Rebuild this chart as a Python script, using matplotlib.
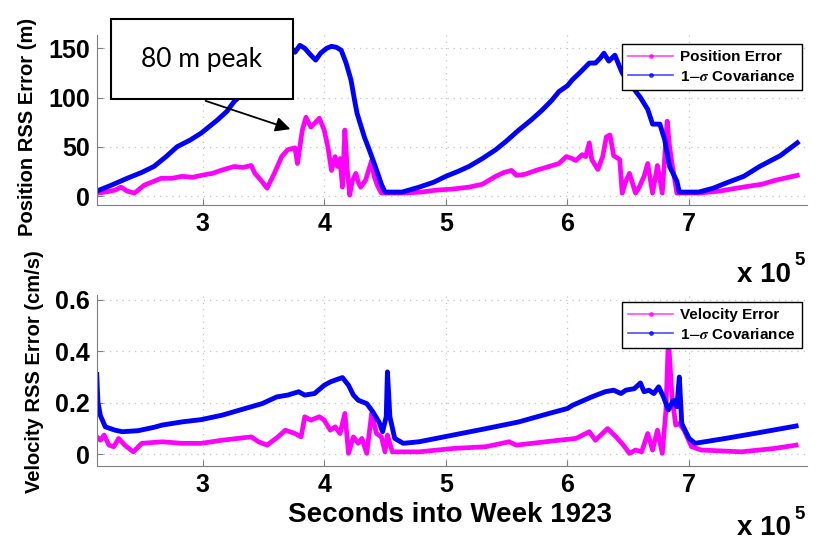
#Position / velocity RSS error vs 1-sigma covariance
import numpy as np
import matplotlib
matplotlib.use('Agg')
import matplotlib.pyplot as plt
from matplotlib.lines import Line2D
from matplotlib.patches import Rectangle, FancyArrowPatch

#Data (time in units of 1e5 seconds into week 1923)
t_pos_cov = [2.13,2.25,2.38,2.5,2.6,2.7,2.79,2.9,2.99,3.05,3.12,3.2,3.26,3.35,3.45,3.55,3.65,3.74,3.76,3.80,
             3.84,3.89,3.93,3.97,4.02,4.06,4.10,4.14,4.18,4.22,4.25,4.27,4.30,4.33,4.37,4.40,4.44,4.47,4.50,
             4.64,4.78,4.9,5.0,5.1,5.19,5.3,5.41,5.5,5.6,5.7,5.79,5.87,5.93,6.0,6.04,6.1,6.18,6.23,6.27,6.30,
             6.34,6.39,6.45,6.52,6.60,6.66,6.70,6.76,6.80,6.84,6.90,6.92,7.0,7.08,7.2,7.30,7.45,7.58,7.75,7.89]
pos_cov = [5,11,18,24,30,40,50,57,64,70,77,86,96,106,117,128,139,149,146,153,
           150,143,138,145,150,152,151,148,135,118,97,84,72,60,47,37,23,12,4,
           4,9,14,20,25,30,38,47,56,67,77,87,97,106,112,118,125,135,135,140,145,
           137,143,125,113,100,88,73,73,57,30,15,4,4,4,8,13,20,30,41,54]

t_pos_err = [2.13,2.2,2.28,2.33,2.38,2.44,2.52,2.6,2.66,2.75,2.83,2.92,2.99,3.08,3.15,3.26,3.33,3.40,3.43,3.48,
             3.53,3.59,3.65,3.70,3.76,3.78,3.82,3.85,3.89,3.93,3.96,4.0,4.03,4.06,4.09,4.11,4.13,4.15,4.17,
             4.19,4.21,4.23,4.26,4.28,4.30,4.34,4.37,4.39,4.41,4.44,4.47,4.55,4.64,4.8,4.92,5.05,5.19,5.3,
             5.41,5.48,5.54,5.58,5.65,5.74,5.85,5.93,5.99,6.04,6.07,6.12,6.15,6.18,6.20,6.25,6.29,6.32,6.35,
             6.38,6.43,6.45,6.48,6.51,6.56,6.59,6.63,6.66,6.70,6.74,6.78,6.80,6.82,6.84,6.86,6.90,7.0,7.08,
             7.25,7.44,7.6,7.71,7.89]
pos_err = [3,4,6,9,5,3,11,15,18,18,20,19,21,23,26,30,29,31,23,16,
           8,23,40,47,49,33,67,80,70,75,79,67,50,26,40,30,38,9,67,
           26,1,15,23,14,9,16,28,36,20,10,3,3,3,4,6,7,9,12,
           20,24,26,21,22,26,30,33,40,38,36,42,40,54,37,27,40,60,62,
           41,37,3,15,23,3,9,20,33,3,31,3,40,76,50,33,3,3,3,
           5,9,12,16,21]

t_vel_cov = [2.13,2.135,2.14,2.16,2.2,2.28,2.34,2.47,2.6,2.67,2.83,2.99,3.16,3.35,3.49,3.61,3.70,3.79,3.84,3.92,
             4.0,4.05,4.09,4.15,4.20,4.24,4.28,4.35,4.40,4.45,4.48,4.51,4.52,4.54,4.58,4.65,4.78,5.06,5.33,
             5.60,5.85,6.0,6.04,6.20,6.31,6.38,6.44,6.48,6.55,6.60,6.63,6.67,6.71,6.75,6.79,6.83,6.87,6.90,
             6.92,6.94,7.0,7.05,7.30,7.57,7.88]
vel_cov = [.31,.25,.20,.15,.107,.094,.088,.092,.105,.114,.126,.135,.152,.178,.197,.223,.23,.243,.23,.236,
           .268,.281,.288,.298,.268,.23,.21,.197,.165,.126,.088,.146,.32,.146,.062,.043,.049,.075,.10,
           .126,.159,.178,.19,.223,.243,.249,.236,.249,.255,.277,.243,.249,.236,.262,.223,.172,.21,.185,
           .30,.12,.062,.043,.062,.084,.11]

t_vel_err = [2.13,2.16,2.19,2.23,2.27,2.31,2.36,2.43,2.50,2.67,2.83,2.99,3.16,3.40,3.46,3.53,3.62,3.68,3.76,3.81,
             3.84,3.89,3.96,4.0,4.05,4.09,4.13,4.17,4.20,4.24,4.28,4.31,4.35,4.39,4.43,4.47,4.50,4.52,4.56,
             4.78,5.06,5.33,5.52,5.58,5.82,5.93,6.07,6.18,6.23,6.33,6.40,6.46,6.51,6.56,6.61,6.66,6.70,6.74,
             6.78,6.81,6.83,6.86,6.89,6.92,6.96,7.02,7.10,7.43,7.70,7.88]
vel_err = [.068,.055,.075,.036,.03,.062,.036,.01,.043,.049,.043,.043,.055,.068,.049,.036,.068,.094,.081,.068,
           .146,.133,.146,.133,.094,.107,.081,.159,.004,.068,.043,.062,.004,.159,.081,.068,.01,.075,.01,
           .01,.023,.03,.049,.036,.049,.055,.062,.088,.055,.10,.068,.036,.004,.017,.01,.081,.017,.094,
           .004,.172,.45,.223,.114,.12,.094,.03,.017,.01,.023,.036]

#Style
plt.rcParams['font.family'] = ['Liberation Sans', 'DejaVu Sans']
plt.rcParams['font.weight'] = 'bold'
plt.rcParams['axes.labelweight'] = 'bold'
plt.rcParams['mathtext.fontset'] = 'stix'

fig = plt.figure(figsize=(8.16, 5.4), dpi=100)
ax1 = fig.add_axes([0.1189, 0.6204, 0.8701, 0.3148])
ax2 = fig.add_axes([0.1189, 0.1370, 0.8701, 0.3167])

def style(ax, yticks, ylabels, ylim):
    ax.set_xlim(2.132, 7.97)
    ax.set_ylim(*ylim)
    ax.set_xticks([3, 4, 5, 6, 7])
    ax.set_xticklabels(['3', '4', '5', '6', '7'])
    ax.set_yticks(yticks)
    ax.set_yticklabels(ylabels)
    for s in ['top', 'right']:
        ax.spines[s].set_visible(False)
    for s in ['left', 'bottom']:
        ax.spines[s].set_color('#7f7f7f')
    ax.tick_params(direction='in', length=4, color='#7f7f7f', labelsize=18, pad=5)
    ax.grid(True, linestyle=(0, (1, 4)), color='#c4c4c4', linewidth=0.9)
    ax.set_axisbelow(True)

#Top: position
ax1.plot(t_pos_err, pos_err, color='magenta', lw=3.4)
ax1.plot(t_pos_cov, pos_cov, color='blue', lw=3.5)
style(ax1, [0, 50, 100, 150], ['0', '50', '100', '150'], (-9.1, 163.5))
ax1.set_ylabel('Position RSS Error (m)', fontsize=14.5, fontweight='bold')
ax1.yaxis.set_label_coords(-0.085, 0.46)

#Bottom: velocity
ax2.plot(t_vel_err, vel_err, color='magenta', lw=3.4)
ax2.plot(t_vel_cov, vel_cov, color='blue', lw=3.5)
style(ax2, [0, 0.2, 0.4, 0.6], ['0', '0.2', '0.4', '0.6'], (-0.045, 0.618))
ax2.set_ylabel('Velocity RSS Error (cm/s)', fontsize=14.5, fontweight='bold')
ax2.yaxis.set_label_coords(-0.075, 0.553)
ax2.set_xlabel('Seconds into Week 1923', fontsize=20, fontweight='bold')
ax2.xaxis.set_label_coords(0.497, -0.21)

#Legends
def legend(ax, first, top):
    h1 = Line2D([], [], color='magenta', lw=1.2, marker='.', ms=5, alpha=0.7)
    h2 = Line2D([], [], color='blue', lw=1.2, marker='.', ms=5, alpha=0.7)
    leg = ax.legend([h1, h2], [first, r'1$-\sigma$ Covariance'], loc='upper right',
                    bbox_to_anchor=(0.993, top), fontsize=11, handlelength=2.9,
                    fancybox=False, edgecolor='black', framealpha=1, borderpad=0.4,
                    labelspacing=0.3, borderaxespad=0, handletextpad=0.5)
    leg.get_frame().set_linewidth(1.0)

legend(ax1, 'Position Error', 0.947)
legend(ax2, 'Velocity Error', 0.959)

# x 10^5 labels
for base_y, sup_y in [(282, 265), (535, 519)]:
    fig.text(737/816, 1 - base_y/540, 'x 10', fontsize=20, ha='left', va='baseline')
    fig.text(794/816, 1 - sup_y/540, '5', fontsize=13.5, ha='left', va='baseline')

#Annotation box with arrow
arrow = FancyArrowPatch((203/816, 1 - 100/540), (293/816, 1 - 130/540), transform=fig.transFigure,
                        arrowstyle='-|>', mutation_scale=22, lw=1.3, color='black', zorder=4)
fig.add_artist(arrow)
box = Rectangle((111/816, 1 - 99/540), 182/816, 80/540, transform=fig.transFigure,
                facecolor='white', edgecolor='black', lw=1.5, zorder=5)
fig.add_artist(box)
fig.text(202/816, 1 - 60/540, '80 m peak', fontsize=19, family='Lato', fontweight='normal',
         ha='center', va='center', zorder=6)

plt.savefig('out.png', dpi=100)
